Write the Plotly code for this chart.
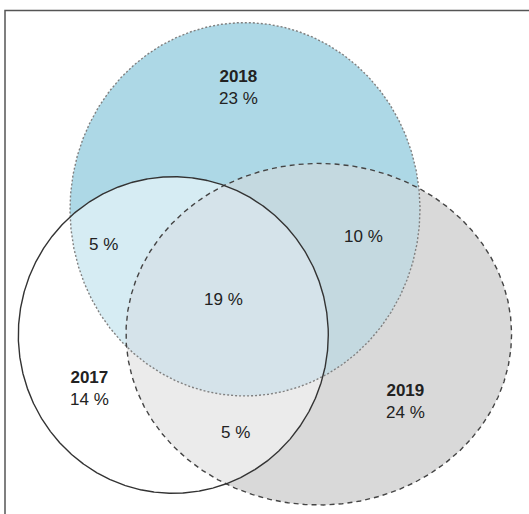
import numpy as np
import plotly.graph_objects as go

# ---- data ----
set_names = ["2017", "2018", "2019"]
set_shares = [14, 23, 24]              # % only in one set
pair_names = ["2017&2018", "2018&2019", "2017&2019"]
pair_shares = [5, 10, 5]
triple_share = 19

# ---- geometry (pixel-like data units, y downwards) ----
centers = {"2017": (173.3, 335.0), "2018": (245.0, 209.3), "2019": (318.8, 334.2)}
radii = {"2017": (155.0, 158.3), "2018": (175.0, 186.7), "2019": (192.8, 170.8)}

fill_single = {"2017": "#FFFFFF", "2018": "#ADD8E6", "2019": "#D9D9D9"}
fill_pair = {"2017&2018": "#D6ECF3", "2018&2019": "#C4D9E0", "2017&2019": "#EBEBEB"}
fill_triple = "#D5E3EA"
outline = {"2017": dict(color="#333333", width=1.4, dash="solid"),
           "2018": dict(color="#808080", width=1.4, dash="2px,2px"),
           "2019": dict(color="#444444", width=1.4, dash="5px,4px")}

label_pos = {"2017": (89, 388), "2018": (238, 87), "2019": (405, 401),
             "2017&2018": (103, 244), "2018&2019": (363, 236), "2017&2019": (235, 432),
             "triple": (223, 299)}

t = np.linspace(0, 2 * np.pi, 1441)


def ellipse(name):
    cx, cy = centers[name]
    rx, ry = radii[name]
    return cx + rx * np.cos(t), cy + ry * np.sin(t)


def inside(name, x, y):
    cx, cy = centers[name]
    rx, ry = radii[name]
    return ((x - cx) / rx) ** 2 + ((y - cy) / ry) ** 2 <= 1.0 + 1e-9


def intersection(names):
    xs, ys = [], []
    for n in names:
        x, y = ellipse(n)
        m = np.ones_like(x, dtype=bool)
        for o in names:
            if o != n:
                m &= inside(o, x, y)
        xs.append(x[m]); ys.append(y[m])
    x = np.concatenate(xs); y = np.concatenate(ys)
    mx, my = x.mean(), y.mean()
    order = np.argsort(np.arctan2(y - my, x - mx))
    x, y = x[order], y[order]
    return np.append(x, x[0]), np.append(y, y[0])


fig = go.Figure()

def add_fill(x, y, color):
    fig.add_trace(go.Scatter(x=x, y=y, mode="lines", fill="toself", fillcolor=color,
                             line=dict(width=0, color=color), hoverinfo="skip", showlegend=False))

for n in ["2018", "2019", "2017"]:
    x, y = ellipse(n)
    add_fill(x, y, fill_single[n])

for p in pair_names:
    x, y = intersection(p.split("&"))
    add_fill(x, y, fill_pair[p])

x, y = intersection(set_names)
add_fill(x, y, fill_triple)

for n in ["2018", "2019", "2017"]:
    x, y = ellipse(n)
    fig.add_trace(go.Scatter(x=x, y=y, mode="lines", line=outline[n],
                             hoverinfo="skip", showlegend=False))

font = dict(family="Liberation Sans, Arial, sans-serif", size=17, color="#222222")
for n, s in zip(set_names, set_shares):
    lx, ly = label_pos[n]
    fig.add_annotation(x=lx, y=ly, text=f"<b>{n}</b><br>{s} %", showarrow=False,
                       font=font, align="center")
for p, s in zip(pair_names, pair_shares):
    lx, ly = label_pos[p]
    fig.add_annotation(x=lx, y=ly, text=f"{s} %", showarrow=False, font=font)
lx, ly = label_pos["triple"]
fig.add_annotation(x=lx, y=ly, text=f"{triple_share} %", showarrow=False, font=font)

fig.add_shape(type="rect", x0=5, y0=10.5, x1=560, y1=560,
              line=dict(color="#555555", width=1.5), fillcolor="rgba(0,0,0,0)", layer="above")

fig.update_layout(width=529, height=514, margin=dict(l=0, r=0, t=0, b=0),
                  paper_bgcolor="white", plot_bgcolor="white",
                  xaxis=dict(range=[0, 529], visible=False, fixedrange=True),
                  yaxis=dict(range=[514, 0], visible=False, fixedrange=True))

fig.write_html("out.html", config={"displayModeBar": False},
               post_script="document.body.style.margin='0';")
